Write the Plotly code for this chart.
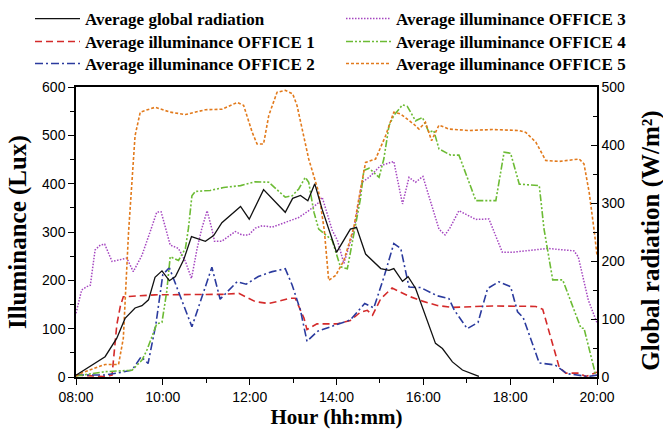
import plotly.graph_objects as go

tick_hours = [8, 10, 12, 14, 16, 18, 20]
tick_labels = ["08:00", "10:00", "12:00", "14:00", "16:00", "18:00", "20:00"]

# Average global radiation (W/m2)
rad_t = [8.00, 8.67, 8.94, 9.13, 9.36, 9.52, 9.67, 9.82, 9.98, 10.15, 10.29, 10.48, 10.66,
         10.98, 11.17, 11.36, 11.79, 11.99, 12.32, 12.82, 12.99, 13.17, 13.34, 13.50, 13.67,
         14.00, 14.32, 14.46, 14.67, 15.02, 15.21, 15.32, 15.52, 15.65, 15.82, 16.05, 16.28,
         16.44, 16.67, 16.90, 17.28]
rad_v = [3, 35, 67, 101, 119, 123, 133, 172, 183, 166, 173, 202, 242,
         234, 244, 266, 294, 272, 323, 284, 308, 313, 304, 333, 289,
         215, 255, 258, 212, 187, 184, 187, 165, 173, 153, 107, 58,
         49, 26, 12, 1]

# Office 1
o1_t = [8.00, 8.63, 8.83, 8.94, 9.02, 9.09, 9.82, 10.98, 11.36, 11.75, 12.13, 12.44, 12.94,
        13.05, 13.25, 13.32, 13.55, 14.02, 14.32, 14.55, 14.71, 14.83, 15.02, 15.28, 15.67,
        15.98, 16.32, 16.67, 17.59, 18.59, 18.75, 19.13, 19.28, 19.59, 19.74, 20.00]
o1_v = [4, 1, 4, 108, 146, 166, 170, 170, 171, 173, 156, 152, 163,
        163, 122, 98, 110, 110, 117, 134, 138, 128, 162, 184, 167,
        157, 148, 144, 147, 146, 140, 20, 8, 8, 1, 10]

# Office 2
o2_t = [8.00, 8.67, 9.06, 9.29, 9.50, 9.66, 9.84, 10.00, 10.15, 10.67, 11.13, 11.32, 11.71,
        11.92, 12.20, 12.52, 12.82, 12.98, 13.17, 13.32, 13.57, 14.17, 14.32, 14.65, 14.86,
        15.09, 15.32, 15.48, 15.67, 15.94, 16.32, 16.59, 16.71, 17.01, 17.26, 17.48, 17.74,
        18.01, 18.17, 18.30, 18.67, 19.03, 19.31, 19.79, 20.00]
o2_v = [4, 4, 10, 14, 42, 28, 109, 212, 226, 104, 227, 161, 197,
        192, 208, 218, 224, 190, 138, 74, 95, 114, 118, 152, 143,
        206, 276, 266, 186, 185, 168, 162, 139, 100, 113, 183, 197,
        187, 135, 123, 29, 25, 7, 1, 4]

# Office 3
o3_t = [8.00, 8.13, 8.25, 8.33, 8.44, 8.56, 8.66, 8.83, 8.98, 9.17, 9.32, 9.52, 9.71, 9.86,
        9.96, 10.09, 10.17, 10.36, 10.52, 10.66, 10.79, 10.90, 11.02, 11.13, 11.19, 11.36,
        11.67, 11.82, 11.98, 12.13, 12.29, 12.52, 12.90, 13.13, 13.36, 13.59, 13.67, 13.79,
        13.90, 14.02, 14.17, 14.40, 14.59, 14.75, 15.01, 15.32, 15.52, 15.67, 15.82, 15.99,
        16.36, 16.50, 16.61, 16.82, 17.21, 17.51, 17.63, 17.82, 18.05, 18.51, 18.86, 19.47,
        19.57, 19.80, 20.00]
o3_v = [132, 180, 187, 190, 263, 273, 275, 239, 242, 246, 218, 252, 301, 341,
        342, 299, 273, 266, 239, 204, 266, 308, 344, 306, 281, 281,
        301, 294, 294, 308, 313, 310, 322, 330, 344, 361, 372, 334,
        304, 283, 235, 304, 403, 413, 437, 446, 358, 413, 403, 415,
        306, 294, 308, 344, 326, 327, 299, 258, 258, 263, 266, 261,
        248, 159, 112]

# Office 4
o4_t = [8.00, 8.67, 9.29, 9.52, 9.63, 9.86, 9.98, 10.09, 10.17, 10.36, 10.52, 10.59, 10.67,
        10.75, 11.09, 11.40, 11.79, 12.13, 12.44, 12.82, 12.98, 13.13, 13.28, 13.36, 13.48,
        13.59, 13.90, 14.09, 14.25, 14.40, 14.55, 14.63, 14.75, 14.98, 15.09, 15.21, 15.32,
        15.52, 15.63, 15.82, 15.98, 16.13, 16.24, 16.36, 16.63, 16.82, 16.97, 17.21, 17.67,
        17.86, 18.01, 18.21, 18.67, 18.78, 18.98, 19.21, 19.63, 19.70, 19.97]
o4_v = [2, 11, 14, 35, 55, 110, 113, 177, 249, 241, 266, 308, 375,
        384, 386, 392, 396, 404, 403, 372, 375, 389, 413, 403, 341,
        306, 283, 228, 224, 297, 368, 427, 432, 413, 451, 520, 541,
        563, 560, 530, 537, 506, 510, 472, 459, 459, 424, 365, 365,
        465, 463, 399, 396, 306, 201, 201, 101, 101, 4]

# Office 5
o5_t = [8.00, 8.09, 8.67, 8.98, 9.09, 9.17, 9.21, 9.36, 9.48, 9.82, 10.17, 10.52, 10.98,
        11.36, 11.71, 11.86, 12.06, 12.17, 12.32, 12.44, 12.63, 12.82, 12.99, 13.09, 13.36,
        13.59, 13.72, 13.82, 13.98, 14.17, 14.40, 14.54, 14.67, 14.90, 15.13, 15.32, 15.48,
        15.78, 15.90, 16.05, 16.19, 16.36, 16.59, 17.05, 17.59, 18.21, 18.36, 18.59, 18.82,
        19.13, 19.59, 19.70, 19.82, 19.94, 20.00]
o5_v = [2, 7, 26, 26, 80, 239, 299, 499, 548, 558, 548, 543, 553,
        554, 568, 562, 506, 482, 482, 541, 589, 593, 586, 562, 451,
        382, 303, 200, 210, 241, 310, 382, 444, 451, 499, 548, 544,
        523, 513, 527, 489, 521, 513, 510, 512, 510, 506, 486, 448,
        446, 451, 441, 382, 299, 252]

serif = "Liberation Serif"
sans = "Liberation Sans"

fig = go.Figure()
fig.add_trace(go.Scatter(x=rad_t, y=rad_v, name="Average global radiation", yaxis="y2",
                         mode="lines", line=dict(color="#111111", width=1.3),
                         legend="legend", showlegend=True))
fig.add_trace(go.Scatter(x=o1_t, y=o1_v, name="Average illuminance OFFICE 1", mode="lines",
                         line=dict(color="#d42a2a", width=1.6, dash="7px,4px"),
                         legend="legend2", showlegend=True))
fig.add_trace(go.Scatter(x=o2_t, y=o2_v, name="Average illuminance OFFICE 2", mode="lines",
                         line=dict(color="#2b3b9e", width=1.6, dash="8px,3px,2px,3px"),
                         legend="legend3", showlegend=True))
fig.add_trace(go.Scatter(x=o3_t, y=o3_v, name="Average illuminance OFFICE 3", mode="lines",
                         line=dict(color="#a546c0", width=1.5, dash="1.5px,1.5px"),
                         legend="legend4", showlegend=True))
fig.add_trace(go.Scatter(x=o4_t, y=o4_v, name="Average illuminance OFFICE 4", mode="lines",
                         line=dict(color="#6cbb34", width=1.6, dash="7px,2px,2px,2px,2px,2px"),
                         legend="legend5", showlegend=True))
fig.add_trace(go.Scatter(x=o5_t, y=o5_v, name="Average illuminance OFFICE 5", mode="lines",
                         line=dict(color="#e27a1c", width=1.6, dash="3px,2px"),
                         legend="legend6", showlegend=True))

legend_common = dict(font=dict(family=serif, size=17, color="black", weight="bold"),
                     bgcolor="rgba(0,0,0,0)", xref="container", yref="container",
                     xanchor="left", yanchor="middle", itemwidth=45, tracegroupgap=0,
                     visible=True)
axis_title_font = dict(family=serif, size=21, color="black", weight="bold")
ytitle_font = dict(family=serif, size=25, color="black", weight="bold")
tick_font = dict(family=sans, size=14, color="black")

col1_x, col2_x = 30 / 663, 341 / 663
row_y = [1 - 19 / 429, 1 - 42 / 429, 1 - 64 / 429]

fig.update_layout(
    width=663, height=429,
    showlegend=True,
    margin=dict(l=76, r=66, t=87, b=52, autoexpand=False),
    plot_bgcolor="white", paper_bgcolor="white",
    legend=dict(x=col1_x, y=row_y[0], **legend_common),
    legend2=dict(x=col1_x, y=row_y[1], **legend_common),
    legend3=dict(x=col1_x, y=row_y[2], **legend_common),
    legend4=dict(x=col2_x, y=row_y[0], **legend_common),
    legend5=dict(x=col2_x, y=row_y[1], **legend_common),
    legend6=dict(x=col2_x, y=row_y[2], **legend_common),
    xaxis=dict(range=[8, 20], tickmode="array", tickvals=tick_hours, ticktext=tick_labels,
               ticks="outside", ticklen=6, tickwidth=1.3, tickcolor="black",
               minor=dict(tickmode="array", tickvals=list(range(8, 21)), ticks="outside",
                          ticklen=4, tickwidth=1.2, tickcolor="black"),
               showline=True, linecolor="black", linewidth=1.5, mirror=True,
               showgrid=False, zeroline=False, tickfont=tick_font, automargin=False,
               title=dict(text="Hour (hh:mm)", font=axis_title_font, standoff=3)),
    yaxis=dict(range=[0, 600], dtick=100, ticks="outside", ticklen=6, tickwidth=1.3,
               tickcolor="black",
               minor=dict(dtick=50, ticks="outside", ticklen=4, tickwidth=1.2, tickcolor="black"),
               showline=True, linecolor="black", linewidth=1.5, showgrid=False, zeroline=False,
               tickfont=tick_font, automargin=False),
    yaxis2=dict(range=[0, 500], dtick=100, overlaying="y", side="right", ticks="inside",
                ticklen=6, tickwidth=1.3, tickcolor="black",
                minor=dict(dtick=50, ticks="inside", ticklen=4, tickwidth=1.2, tickcolor="black"),
                showline=True, linecolor="black", linewidth=1.5, showgrid=False, zeroline=False,
                tickfont=tick_font, automargin=False),
    annotations=[
        dict(text="Illuminance (Lux)", textangle=-90, xref="paper", yref="paper",
             x=(18 - 76) / 521, y=0.5, xanchor="center", yanchor="middle",
             showarrow=False, font=ytitle_font),
        dict(text="Global radiation (W/m²)", textangle=-90, xref="paper", yref="paper",
             x=(651 - 76) / 521, y=0.47, xanchor="center", yanchor="middle",
             showarrow=False, font=ytitle_font),
    ],
)

fig.write_html("out.html")
